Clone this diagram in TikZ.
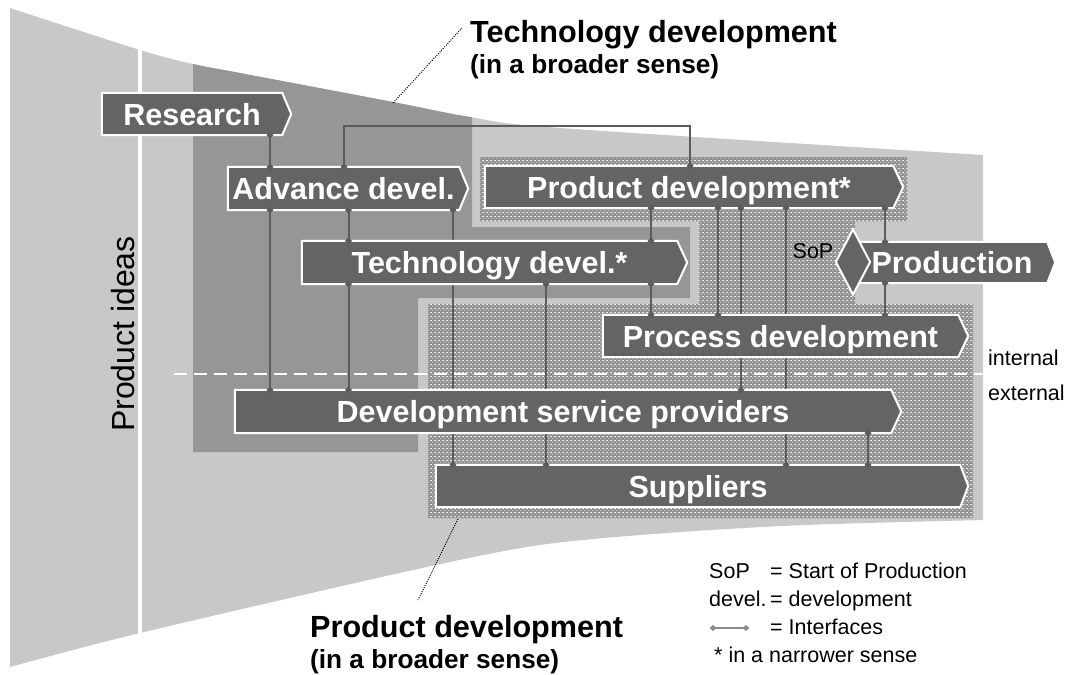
\documentclass[tikz,border=0pt]{standalone}
\usepackage{fontspec}
\setmainfont{Liberation Sans}
\usetikzlibrary{shapes.geometric,patterns.meta}
\pgfdeclarelayer{back}
\pgfdeclarelayer{conn}
\pgfdeclarelayer{boxes}
\pgfsetlayers{back,conn,boxes,main}
\definecolor{funnel}{HTML}{C8C8C8}
\definecolor{darkreg}{HTML}{969696}
\definecolor{boxfill}{HTML}{646464}
\definecolor{stipbase}{HTML}{909090}
\definecolor{stipdot}{HTML}{EAEAEA}
\definecolor{connc}{HTML}{5C5C5C}
\definecolor{legc}{HTML}{8C8C8C}
\tikzdeclarepattern{
  name=stip,
  type=colored,
  bottom left={(0pt,0pt)},
  top right={(4pt,4pt)},
  tile size={(4pt,4pt)},
  code={\fill[stipdot] (1pt,1pt) circle[radius=0.7pt]; \fill[stipdot] (3pt,3pt) circle[radius=0.7pt];}
}
\tikzset{
  mk/.pic={\fill[connc] (-3.5pt,0pt) -- (0pt,3.5pt) -- (3.5pt,0pt) -- (0pt,-3.5pt) -- cycle;},
  mkl/.pic={\fill[legc] (-3.5pt,0pt) -- (0pt,3pt) -- (3.5pt,0pt) -- (0pt,-3pt) -- cycle;},
  boxtext/.style={text=white, font=\fontsize{30.5}{36}\selectfont\bfseries, inner sep=0pt, text height=22pt, text depth=0pt},
  boxshape/.style={fill=boxfill, draw=white, line width=2pt, line join=miter},
  cline/.style={draw=connc, line width=2pt},
  titlefont/.style={anchor=base west, inner sep=0pt, font=\fontsize{30.6}{36}\selectfont\bfseries},
  subfont/.style={anchor=base west, inner sep=0pt, font=\fontsize{26.2}{30}\selectfont\bfseries},
  legfont/.style={anchor=base west, inner sep=0pt, font=\fontsize{21.5}{25}\selectfont},
  leader/.style={draw=black, line width=1pt, dash pattern=on 1pt off 1.3pt}
}
\newcommand\ifline[2]{%
  \begin{pgfonlayer}{conn}\draw[cline] #1 -- #2;\end{pgfonlayer}%
  \path #1 pic{mk}; \path #2 pic{mk};}
\newcommand\sigbox[2]{%
  \begin{pgfonlayer}{boxes}\filldraw[boxshape] (#1.north west) -- (#1.north east) -- ([xshift=#2]#1.east) -- (#1.south east) -- (#1.south west) -- cycle;\end{pgfonlayer}}
\begin{document}
\begin{tikzpicture}[x=1pt,y=-1pt]
\useasboundingbox (0,0) rectangle (1069,675);
% ---------- background regions ----------
\begin{pgfonlayer}{back}
\fill[funnel] plot[smooth,tension=0.5] coordinates {(10,8) (140,50) (193,64) (240,73) (393,102) (470,117) (560,128) (983,155)}
  -- plot[smooth,tension=0.5] coordinates {(983,520) (805,525) (667,533) (540,545) (413,570) (140,633) (10,667)} -- cycle;
\begin{scope}
\clip plot[smooth,tension=0.5] coordinates {(10,8) (140,50) (193,64) (240,73) (393,102) (470,117) (560,128) (983,155)}
  -- plot[smooth,tension=0.5] coordinates {(983,520) (805,525) (667,533) (540,545) (413,570) (140,633) (10,667)} -- cycle;
\fill[darkreg] (193,0) -- (472,0) -- (472,227) -- (690,227) -- (690,298) -- (418,298) -- (418,452) -- (193,452) -- cycle;
\draw[white, line width=4pt] (140,30) -- (140,660);
\end{scope}
\fill[stipbase] (480,157) -- (907,157) -- (907,221) -- (855,221) -- (855,304) -- (973,304) -- (973,518) -- (428,518) -- (428,304) -- (699,304) -- (699,221) -- (480,221) -- cycle;
\fill[pattern=stip] (480,157) -- (907,157) -- (907,221) -- (855,221) -- (855,304) -- (973,304) -- (973,518) -- (428,518) -- (428,304) -- (699,304) -- (699,221) -- (480,221) -- cycle;
\coordinate (dl1) at (174,374);
\coordinate (dl2) at (983,374);
\draw[white, line width=2pt, dash pattern=on 13pt off 7pt] (dl1) -- (dl2);
\end{pgfonlayer}
% ---------- boxes ----------
\node[boxtext, minimum width=180pt, minimum height=42pt] (research) at (192,114) {Research};
\node[boxtext, minimum width=231pt, minimum height=43pt] (adv) at (343.5,188.5) {Advance devel.};
\node[boxtext, minimum width=408pt, minimum height=42pt] (pd) at (689,187) {Product development*};
\node[boxtext, minimum width=375pt, minimum height=43pt] (tech) at (489.5,262.5) {Technology devel.*};
\node[boxtext, minimum width=190pt, minimum height=41pt] (prod) at (952,262.5) {Production};
\node[boxtext, minimum width=355pt, minimum height=42pt] (proc) at (780.5,336) {Process development};
\node[boxtext, minimum width=656pt, minimum height=43pt] (dsp) at (563,411.5) {Development service providers};
\node[boxtext, minimum width=524pt, minimum height=42pt] (sup) at (698,486) {Suppliers};
\sigbox{research}{9pt}
\sigbox{adv}{9pt}
\sigbox{pd}{10pt}
\sigbox{tech}{10pt}
\sigbox{prod}{8pt}
\sigbox{proc}{10pt}
\sigbox{dsp}{10pt}
\sigbox{sup}{8pt}
\node[diamond, fill=boxfill, draw=white, line width=2pt, minimum width=35pt, minimum height=66pt, inner sep=0pt] (sop) at (853,262) {};
\node[anchor=base, inner sep=0pt, font=\fontsize{21.5}{25}\selectfont] (sopl) at (813,258) {SoP};
% ---------- interfaces ----------
\coordinate (c270) at (270,0);
\coordinate (c344) at (344,0);
\coordinate (c348) at (348.5,0);
\coordinate (c453) at (453,0);
\coordinate (c546) at (546,0);
\coordinate (c651) at (651,0);
\coordinate (c690) at (690,0);
\coordinate (c718) at (718,0);
\coordinate (c741) at (741,0);
\coordinate (c786) at (786,0);
\coordinate (c868) at (868,0);
\coordinate (c885) at (885,0);
\coordinate (ytop) at (0,126);
\ifline{(c270|-research.south)}{(c270|-adv.north)}
\ifline{(c270|-adv.south)}{(c270|-dsp.north)}
\ifline{(c348|-adv.south)}{(c348|-tech.north)}
\ifline{(c348|-tech.south)}{(c348|-dsp.north)}
\ifline{(c453|-adv.south)}{(c453|-sup.north)}
\ifline{(c546|-tech.south)}{(c546|-sup.north)}
\ifline{(c651|-pd.south)}{(c651|-tech.north)}
\ifline{(c651|-tech.south)}{(c651|-proc.north)}
\ifline{(c718|-pd.south)}{(c718|-proc.north)}
\ifline{(c741|-pd.south)}{(c741|-dsp.north)}
\ifline{(c786|-pd.south)}{(c786|-sup.north)}
\ifline{(c885|-pd.south)}{(c885|-prod.north)}
\ifline{(c885|-prod.south)}{(c885|-proc.north)}
\ifline{(c868|-dsp.south)}{(c868|-sup.north)}
\begin{pgfonlayer}{conn}
\draw[cline] (c344|-adv.north) -- (c344|-ytop) -- (c690|-ytop) -- (c690|-pd.north);
\end{pgfonlayer}
\path (c344|-adv.north) pic{mk};
\path (c690|-pd.north) pic{mk};
% ---------- labels ----------
\node[titlefont] (tdl1) at (470,42) {Technology development};
\node[subfont] (tdl2) at (470,73) {(in a broader sense)};
\node[titlefont] (pdl1) at (310,637) {Product development};
\node[subfont] (pdl2) at (310,668) {(in a broader sense)};
\coordinate (lt1) at (393,103);
\coordinate (lt2) at (462,28);
\draw[leader] (lt1) -- (lt2);
\coordinate (lb1) at (458,519);
\coordinate (lb2) at (418,600);
\draw[leader] (lb1) -- (lb2);
\node[rotate=90, anchor=base, inner sep=0pt, font=\fontsize{32}{38}\selectfont] (pidea) at (134,334) {Product ideas};
\node[legfont] (intl) at (988,365) {internal};
\node[legfont] (extl) at (988,400) {external};
% ---------- legend ----------
\node[legfont] (lg1a) at (709,578) {SoP};
\node[legfont] (lg1b) at (770,578) {= Start of Production};
\node[legfont] (lg2a) at (709,606) {devel.};
\node[legfont] (lg2b) at (770,606) {= development};
\coordinate (legA) at (713,628);
\coordinate (legB) at (746,628);
\draw[legc, line width=2pt] (legA) -- (legB);
\path (legA) pic{mkl};
\path (legB) pic{mkl};
\node[legfont] (lg3b) at (770,634) {= Interfaces};
\node[legfont] (lg4) at (714,662) {* in a narrower sense};
\end{tikzpicture}
\end{document}
